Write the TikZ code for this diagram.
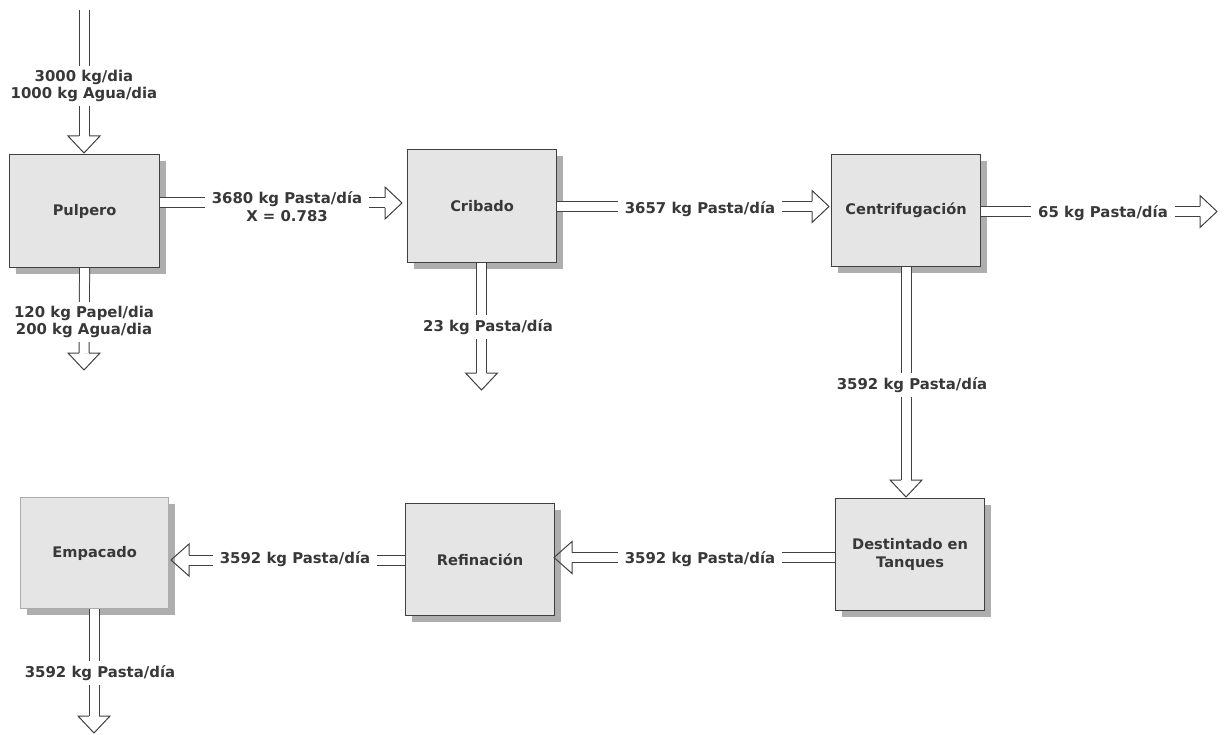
\documentclass[tikz,border=0pt]{standalone}
\usepackage{fontspec}
\setmainfont{DejaVu Sans}
\usetikzlibrary{shadows,calc}
\definecolor{boxfill}{HTML}{E5E5E5}
\definecolor{shadowc}{HTML}{AEAEAE}
\definecolor{lc}{HTML}{404040}
\definecolor{txt}{HTML}{383838}
\tikzset{
  procbox/.style={draw=lc, line width=1.2pt, fill=boxfill, anchor=north west,
    minimum width=150pt, minimum height=113pt, inner sep=0pt, align=center,
    text=txt, font=\fontsize{14.6}{17.5}\selectfont\bfseries,
    general shadow={fill=shadowc, shadow xshift=6pt, shadow yshift=-6pt}},
  shaft/.style={draw=lc, line width=1pt, double=white, double distance=9pt},
  ln/.style={draw=lc, line width=1pt, line join=miter},
  lbl/.style={fill=white, text=txt, align=center, inner xsep=7pt, inner ysep=4pt,
    font=\fontsize{14.9}{17.5}\selectfont\bfseries},
}
\newcommand{\hdown}[1]{\draw[ln] ([xshift=-5pt]#1) -- ([xshift=-16pt]#1) -- ([yshift=-17pt]#1) -- ([xshift=16pt]#1) -- ([xshift=5pt]#1);}
\newcommand{\hright}[1]{\draw[ln] ([yshift=5pt]#1) -- ([yshift=16pt]#1) -- ([xshift=17pt]#1) -- ([yshift=-16pt]#1) -- ([yshift=-5pt]#1);}
\newcommand{\hleft}[1]{\draw[ln] ([yshift=5pt]#1) -- ([yshift=16pt]#1) -- ([xshift=-18pt]#1) -- ([yshift=-16pt]#1) -- ([yshift=-5pt]#1);}
\begin{document}
\begin{tikzpicture}[x=1pt,y=-1pt]
\useasboundingbox (0,0) rectangle (1228,735);
% boxes
\node[procbox] (pul) at (9,154) {Pulpero};
\node[procbox, minimum width=149pt] (crib) at (407,149) {Cribado};
\node[procbox, minimum width=149pt, minimum height=112pt] (cent) at (831,154) {Centrifugación};
\node[procbox, minimum width=149pt, minimum height=112pt] (dest) at (835,498) {Destintado en\\Tanques};
\node[procbox, minimum width=149pt, minimum height=112pt] (ref) at (405,503) {Refinación};
\node[procbox, draw=gray!65, minimum width=148pt, minimum height=111pt] (emp) at (20,497) {Empacado};
% head base coordinates and free ends
\coordinate (in0) at (84,10);
\coordinate (b1) at (84,136);
\coordinate (b2) at (84,353);
\coordinate (b3) at (385,203);
\coordinate (b4) at (812,206.5);
\coordinate (b5) at (1200,211.5);
\coordinate (b6) at (481.5,373);
\coordinate (b7) at (906,480);
\coordinate (b8) at (572,557.5);
\coordinate (b9) at (189,560);
\coordinate (b10) at (94,716);
% shafts
\draw[shaft] (in0) -- (b1);
\draw[shaft] (pul.south) -- (b2);
\draw[shaft] (pul.east |- b3) -- (b3);
\draw[shaft] (crib.east |- b4) -- (b4);
\draw[shaft] (cent.east |- b5) -- (b5);
\draw[shaft] (crib.south -| b6) -- (b6);
\draw[shaft] (cent.south -| b7) -- (b7);
\draw[shaft] (dest.west |- b8) -- (b8);
\draw[shaft] (ref.west |- b9) -- (b9);
\draw[shaft] (emp.south -| b10) -- (b10);
% heads
\hdown{b1}
\hdown{b2}
\hright{b3}
\hright{b4}
\hright{b5}
\hdown{b6}
\hdown{b7}
\hleft{b8}
\hleft{b9}
\hdown{b10}
% labels
\node[lbl] (l1) at (84,86) {3000 kg/dia\\1000 kg Agua/dia};
\node[lbl] (l2) at (84,322) {120 kg Papel/dia\\200 kg Agua/dia};
\node[lbl] (l3) at (287,206.5) {3680 kg Pasta/día\\X = 0.783};
\node[lbl] (l4) at (700,209) {3657 kg Pasta/día};
\node[lbl] (l5) at (1103,213) {65 kg Pasta/día};
\node[lbl] (l6) at (488,327) {23 kg Pasta/día};
\node[lbl] (l7) at (912,385) {3592 kg Pasta/día};
\node[lbl] (l8) at (700,559) {3592 kg Pasta/día};
\node[lbl] (l9) at (295,559) {3592 kg Pasta/día};
\node[lbl] (l10) at (100,673) {3592 kg Pasta/día};
\end{tikzpicture}
\end{document}
